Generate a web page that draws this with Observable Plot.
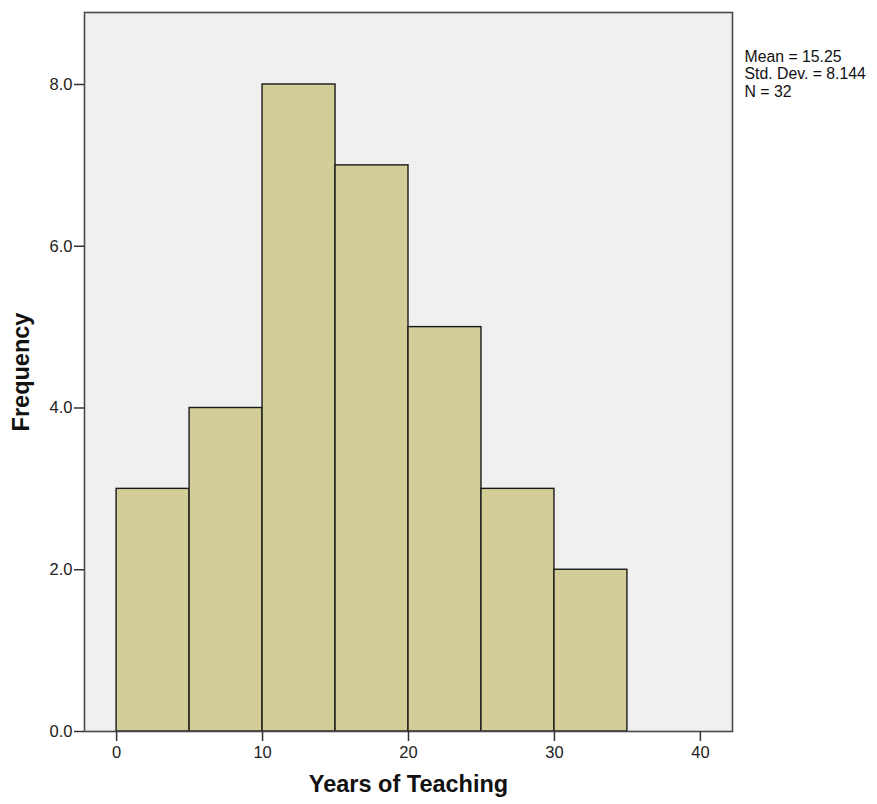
<!DOCTYPE html>
<html>
<head>
<meta charset="utf-8">
<script src="https://cdn.jsdelivr.net/npm/d3@7"></script>
<script src="https://cdn.jsdelivr.net/npm/@observablehq/plot@0.6"></script>
<style>
  html, body { margin: 0; padding: 0; background: #ffffff; }
  #chart { width: 877px; height: 804px; }
</style>
</head>
<body>
<div id="chart"></div>
<script>
// Histogram bins (Years of Teaching) and frequencies
const binStart = [0, 5, 10, 15, 20, 25, 30];
const binEnd   = [5, 10, 15, 20, 25, 30, 35];
const frequency = [3, 4, 8, 7, 5, 3, 2];
const xTicks = [0, 10, 20, 30, 40];
const yTicks = [0, 2, 4, 6, 8];
const statsLines = ["Mean = 15.25", "Std. Dev. = 8.144", "N = 32"];

const bins = binStart.map((s, i) => ({x1: s, x2: binEnd[i], y: frequency[i]}));

const chart = Plot.plot({
  width: 877,
  height: 804,
  marginLeft: 84,
  marginTop: 12,
  marginRight: 145,
  marginBottom: 73,
  style: {fontFamily: "Liberation Sans, Arial, sans-serif", fontSize: "16px", color: "#222", background: "#ffffff"},
  x: {domain: [-2.2, 42.2]},
  y: {domain: [0, 8.89]},
  marks: [
    Plot.frame({fill: "#f0f0f0", stroke: "none"}),
    Plot.rectY(bins, {x1: "x1", x2: "x2", y: "y", fill: "#d3ce98", stroke: "#1a1a1a", strokeWidth: 1.4}),
    Plot.frame({stroke: "#4a4a4a", strokeWidth: 1.6}),
    Plot.axisX({ticks: xTicks, tickSize: 10, tickPadding: 5, tickFormat: d3.format("d"), label: null, stroke: "#333", strokeWidth: 1.5, fontSize: 16.5}),
    Plot.axisY({ticks: yTicks, tickSize: 10, tickPadding: 2, tickFormat: d3.format(".1f"), label: null, stroke: "#333", strokeWidth: 1.5, fontSize: 16.5}),
    Plot.text(["Years of Teaching"], {frameAnchor: "bottom", dy: 60, fontSize: 23.5, fontWeight: "bold", fill: "#111"}),
    Plot.text(["Frequency"], {frameAnchor: "left", dx: -63, rotate: -90, textAnchor: "middle", fontSize: 23.5, fontWeight: "bold", fill: "#111"}),
    Plot.text([statsLines.join("\n")], {frameAnchor: "top-right", dx: 12, dy: 37, textAnchor: "start", lineAnchor: "top", lineHeight: 1.1, fontSize: 15.8, fill: "#111"})
  ]
});
document.getElementById("chart").appendChild(chart);
</script>
</body>
</html>
